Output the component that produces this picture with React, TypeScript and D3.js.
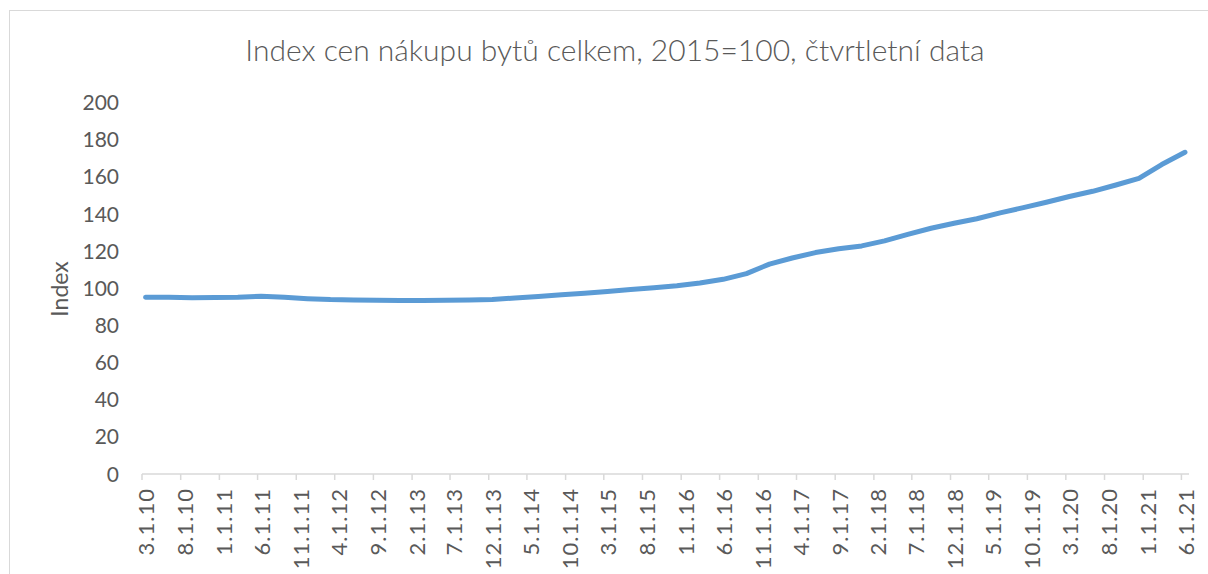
import React from 'react';
import * as d3 from 'd3';

const width = 1208;
const height = 574;

const title = 'Index cen nákupu bytů celkem, 2015=100, čtvrtletní data';
const yTitle = 'Index';

// quarterly observations (last month of each quarter)
const periods = [
  '2010-03', '2010-06', '2010-09', '2010-12',
  '2011-03', '2011-06', '2011-09', '2011-12',
  '2012-03', '2012-06', '2012-09', '2012-12',
  '2013-03', '2013-06', '2013-09', '2013-12',
  '2014-03', '2014-06', '2014-09', '2014-12',
  '2015-03', '2015-06', '2015-09', '2015-12',
  '2016-03', '2016-06', '2016-09', '2016-12',
  '2017-03', '2017-06', '2017-09', '2017-12',
  '2018-03', '2018-06', '2018-09', '2018-12',
  '2019-03', '2019-06', '2019-09', '2019-12',
  '2020-03', '2020-06', '2020-09', '2020-12',
  '2021-03', '2021-06'
];

const values = [
  95.1, 95.2, 94.9, 95.0,
  95.1, 95.7, 95.1, 94.4,
  93.9, 93.7, 93.6, 93.4,
  93.4, 93.6, 93.7, 93.9,
  94.8, 95.6, 96.5, 97.3,
  98.3, 99.3, 100.3, 101.4,
  102.8, 104.8, 107.9, 113.0,
  116.3, 119.2, 121.3, 122.8,
  125.5, 129.0, 132.3, 135.0,
  137.4, 140.6, 143.4, 146.3,
  149.4, 152.2, 155.6, 159.2,
  166.6, 173.2
];

const xTickLabels = [
  '3.1.10', '8.1.10', '1.1.11', '6.1.11', '11.1.11', '4.1.12', '9.1.12',
  '2.1.13', '7.1.13', '12.1.13', '5.1.14', '10.1.14', '3.1.15', '8.1.15',
  '1.1.16', '6.1.16', '11.1.16', '4.1.17', '9.1.17', '2.1.18', '7.1.18',
  '12.1.18', '5.1.19', '10.1.19', '3.1.20', '8.1.20', '1.1.21', '6.1.21'
];

const yTicks = [0, 20, 40, 60, 80, 100, 120, 140, 160, 180, 200];

const font = 'Lato, "Open Sans", sans-serif';
const textColor = '#595959';

const parsePeriod = d3.timeParse('%Y-%m');
const parseTick = d3.timeParse('%m.%d.%y');

const App = () => {
  const data = periods.map((p, i) => ({
    date: d3.timeDay.offset(parsePeriod(p) as Date, 14),
    value: values[i]
  }));
  const ticks = xTickLabels.map(label => ({ label, date: parseTick(label) as Date }));

  const xScale = d3.scaleTime()
    .domain([ticks[0].date, d3.timeMonth.offset(ticks[ticks.length - 1].date, 1)])
    .range([142, 1189]);

  const yScale = d3.scaleLinear()
    .domain([0, 200])
    .range([474, 102.5]);

  const line = d3.line<{ date: Date; value: number }>()
    .x(d => xScale(d.date))
    .y(d => yScale(d.value));

  const axisY = yScale(0);

  return (
    <svg
      width={width}
      height={height}
      style={{ position: 'absolute', left: 0, top: 0, background: '#fff' }}
    >
      {/* chart frame, cropped on the right and bottom */}
      <rect x={9.5} y={10.5} width={1260} height={640} fill="#fff" stroke="#d9d9d9" strokeWidth={1} />

      {/* Title */}
      <text
        x={615}
        y={61}
        textAnchor="middle"
        fontFamily={font}
        fontWeight={300}
        fontSize={30}
        fill={textColor}
      >
        {title}
      </text>

      {/* Y ticks */}
      {yTicks.map(t => (
        <text
          key={t}
          x={119}
          y={yScale(t)}
          dy="0.36em"
          textAnchor="end"
          fontFamily={font}
          fontSize={21}
          fill={textColor}
        >
          {t}
        </text>
      ))}

      {/* Y title */}
      <text
        transform={`translate(60,289) rotate(-90)`}
        dy="0.36em"
        textAnchor="middle"
        fontFamily={font}
        fontSize={23}
        fill={textColor}
      >
        {yTitle}
      </text>

      {/* X axis */}
      <line
        x1={xScale.range()[0]}
        x2={xScale.range()[1]}
        y1={axisY}
        y2={axisY}
        stroke="#d9d9d9"
        strokeWidth={1.5}
      />
      {ticks.map(t => (
        <g key={t.label} transform={`translate(${xScale(t.date)},0)`}>
          <line y1={axisY} y2={axisY + 6} stroke="#d9d9d9" strokeWidth={1.5} />
          <text
            transform={`translate(4.5,${axisY + 14}) rotate(-90)`}
            dy="0.36em"
            textAnchor="end"
            fontFamily={font}
            fontSize={22}
            letterSpacing={1}
            fill={textColor}
          >
            {t.label}
          </text>
        </g>
      ))}

      {/* Line */}
      <path
        d={line(data) || ''}
        fill="none"
        stroke="#5b9bd5"
        strokeWidth={5}
        strokeLinecap="round"
        strokeLinejoin="round"
      />
    </svg>
  );
};

export default App;
